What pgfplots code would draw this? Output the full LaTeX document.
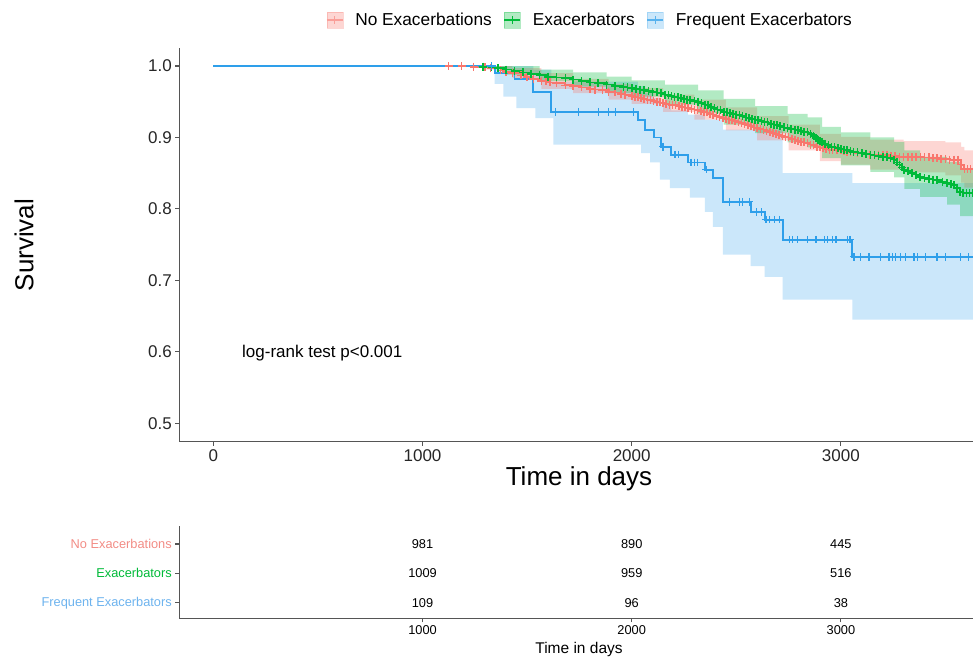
\documentclass[border=0pt]{standalone}
\usepackage{pgfplots}
\usepackage{pgfplotstable}
\pgfplotsset{compat=1.18}
\usepackage{fontspec}
\setmainfont{Liberation Sans}
\definecolor{cRed}{HTML}{F8766D}
\definecolor{cGreen}{HTML}{00BA38}
\definecolor{cBlue}{HTML}{2E9FEA}
\definecolor{cBlueLab}{HTML}{6DB3EE}
\definecolor{cRedLab}{HTML}{F28C85}
\definecolor{axgray}{HTML}{555555}

% No Exacerbations: step curve incl. censor points
\pgfplotstableread[row sep=\\]{
x y\\
0 1.0\\ 1125 1.0\\ 1187 1.0\\ 1244 0.999\\ 1300 0.998\\ 1325 0.997\\ 1373 0.994\\ 1400 0.992\\
1430 0.990\\ 1470 0.987\\ 1500 0.985\\ 1530 0.982\\ 1568 0.979\\ 1590 0.979\\ 1610 0.977\\ 1640 0.976\\
1683 0.973\\ 1720 0.972\\ 1760 0.970\\ 1800 0.968\\ 1825 0.967\\ 1860 0.966\\ 1890 0.964\\ 1921 0.963\\
1950 0.961\\ 1968 0.960\\ 2000 0.958\\ 2015 0.957\\ 2030 0.956\\ 2045 0.955\\ 2060 0.954\\ 2075 0.953\\
2090 0.952\\ 2105 0.951\\ 2120 0.950\\ 2135 0.949\\ 2150 0.948\\ 2165 0.947\\ 2180 0.946\\ 2195 0.945\\
2210 0.945\\ 2225 0.944\\ 2240 0.943\\ 2255 0.942\\ 2270 0.941\\ 2285 0.940\\ 2300 0.939\\ 2315 0.938\\
2330 0.937\\ 2345 0.936\\ 2360 0.935\\ 2375 0.933\\ 2390 0.932\\ 2405 0.930\\ 2420 0.929\\ 2435 0.927\\
2450 0.926\\ 2465 0.925\\ 2480 0.924\\ 2495 0.923\\ 2510 0.922\\ 2525 0.920\\ 2540 0.919\\ 2555 0.917\\
2570 0.916\\ 2585 0.914\\ 2600 0.913\\ 2615 0.912\\ 2630 0.911\\ 2645 0.909\\ 2660 0.908\\ 2675 0.906\\
2690 0.905\\ 2705 0.903\\ 2720 0.902\\ 2735 0.901\\ 2750 0.900\\ 2765 0.898\\ 2780 0.897\\ 2795 0.895\\
2810 0.894\\ 2825 0.893\\ 2840 0.892\\ 2855 0.890\\ 2870 0.889\\ 2885 0.887\\ 2900 0.886\\ 2915 0.885\\
2930 0.884\\ 2945 0.883\\ 2960 0.883\\ 2980 0.882\\ 3000 0.882\\ 3015 0.881\\ 3030 0.880\\ 3045 0.880\\
3060 0.879\\ 3080 0.878\\ 3100 0.878\\ 3120 0.877\\ 3140 0.876\\ 3160 0.876\\ 3180 0.876\\ 3200 0.875\\
3220 0.875\\ 3240 0.874\\ 3260 0.874\\ 3280 0.873\\ 3300 0.873\\ 3320 0.873\\ 3340 0.873\\ 3360 0.873\\
3380 0.873\\ 3400 0.872\\ 3420 0.872\\ 3440 0.871\\ 3460 0.871\\ 3480 0.870\\ 3500 0.870\\ 3520 0.869\\
3540 0.869\\ 3560 0.869\\ 3575 0.862\\ 3590 0.856\\ 3605 0.856\\ 3620 0.856\\ 3640 0.856\\
}\tabRed

% Exacerbators
\pgfplotstableread[row sep=\\]{
x y\\
0 1.0\\ 1250 1.0\\ 1290 0.999\\ 1330 0.998\\ 1360 0.997\\ 1400 0.995\\ 1440 0.993\\ 1480 0.991\\
1520 0.989\\ 1560 0.987\\ 1600 0.985\\ 1640 0.984\\ 1683 0.983\\ 1720 0.981\\ 1760 0.979\\ 1800 0.977\\
1840 0.976\\ 1880 0.974\\ 1920 0.972\\ 1960 0.971\\ 1980 0.970\\ 2000 0.969\\ 2020 0.968\\ 2040 0.967\\
2060 0.966\\ 2080 0.965\\ 2100 0.964\\ 2120 0.963\\ 2140 0.962\\ 2159 0.960\\ 2175 0.959\\ 2190 0.958\\
2205 0.957\\ 2220 0.956\\ 2235 0.955\\ 2250 0.954\\ 2265 0.953\\ 2280 0.952\\ 2300 0.951\\ 2317 0.950\\
2333 0.948\\ 2350 0.946\\ 2365 0.945\\ 2380 0.943\\ 2395 0.941\\ 2410 0.939\\ 2425 0.938\\ 2440 0.936\\
2455 0.935\\ 2470 0.934\\ 2485 0.933\\ 2500 0.932\\ 2515 0.931\\ 2530 0.930\\ 2545 0.928\\ 2560 0.927\\
2575 0.926\\ 2590 0.925\\ 2605 0.924\\ 2620 0.923\\ 2635 0.922\\ 2650 0.921\\ 2665 0.919\\ 2680 0.918\\
2695 0.917\\ 2710 0.916\\ 2728 0.914\\ 2745 0.913\\ 2762 0.912\\ 2780 0.911\\ 2795 0.910\\ 2810 0.909\\
2825 0.908\\ 2841 0.907\\ 2855 0.905\\ 2870 0.902\\ 2880 0.899\\ 2890 0.897\\ 2900 0.895\\ 2910 0.893\\
2925 0.891\\ 2940 0.889\\ 2955 0.887\\ 2970 0.886\\ 2985 0.885\\ 3000 0.884\\ 3015 0.883\\ 3030 0.882\\
3045 0.881\\ 3060 0.880\\ 3080 0.879\\ 3100 0.878\\ 3120 0.877\\ 3141 0.876\\ 3160 0.875\\ 3180 0.874\\
3200 0.873\\ 3220 0.872\\ 3238 0.871\\ 3255 0.869\\ 3268 0.865\\ 3280 0.862\\ 3292 0.858\\ 3303 0.855\\
3320 0.853\\ 3340 0.850\\ 3360 0.848\\ 3379 0.845\\ 3400 0.843\\ 3420 0.842\\ 3440 0.841\\ 3460 0.840\\
3485 0.838\\ 3508 0.836\\ 3525 0.835\\ 3540 0.833\\ 3555 0.829\\ 3570 0.824\\ 3585 0.823\\ 3600 0.822\\
3615 0.822\\ 3630 0.822\\ 3640 0.822\\
}\tabGreen

% Frequent Exacerbators
\pgfplotstableread[row sep=\\]{
x y\\
0 1.0\\ 1345 0.990\\ 1440 0.982\\ 1530 0.964\\ 1616 0.936\\ 2030 0.925\\ 2064 0.911\\ 2105 0.900\\
2140 0.887\\ 2188 0.876\\ 2269 0.865\\ 2350 0.855\\ 2388 0.843\\ 2436 0.810\\ 2569 0.796\\ 2636 0.785\\
2722 0.757\\ 3055 0.733\\ 3640 0.733\\
}\tabBlue

\pgfplotstableread[row sep=\\]{
x y\\
1330 1.0\\ 1635 0.936\\ 1745 0.936\\ 1840 0.936\\ 1888 0.936\\ 1921 0.936\\ 2010 0.936\\ 2150 0.887\\
2207 0.876\\ 2225 0.876\\ 2283 0.865\\ 2300 0.865\\ 2315 0.865\\ 2356 0.855\\ 2467 0.810\\ 2515 0.810\\
2531 0.810\\ 2563 0.810\\ 2595 0.796\\ 2619 0.796\\ 2642 0.785\\ 2658 0.785\\ 2682 0.785\\ 2706 0.785\\
2753 0.757\\ 2769 0.757\\ 2793 0.757\\ 2841 0.757\\ 2881 0.757\\ 2920 0.757\\ 2936 0.757\\ 2960 0.757\\
2976 0.757\\ 3031 0.757\\ 3043 0.757\\ 3063 0.733\\ 3095 0.733\\ 3135 0.733\\ 3190 0.733\\ 3230 0.733\\
3246 0.733\\ 3262 0.733\\ 3285 0.733\\ 3310 0.733\\ 3349 0.733\\ 3365 0.733\\ 3405 0.733\\ 3460 0.733\\
3500 0.733\\ 3572 0.733\\ 3610 0.733\\
}\cenBlue

% confidence bands as step polygons (upper forward, lower backward)
\pgfplotstableread[row sep=\\]{
x y\\
0 1\\ 1430 1\\ 1430 0.997\\ 1568 0.997\\ 1568 0.990\\ 1720 0.990\\ 1720 0.982\\ 1890 0.982\\
1890 0.975\\ 2000 0.975\\ 2000 0.969\\ 2150 0.969\\ 2150 0.960\\ 2300 0.960\\ 2300 0.953\\ 2450 0.953\\
2450 0.942\\ 2600 0.942\\ 2600 0.930\\ 2750 0.930\\ 2750 0.918\\ 2900 0.918\\ 2900 0.905\\ 3000 0.905\\
3000 0.901\\ 3140 0.901\\ 3140 0.897\\ 3300 0.897\\ 3300 0.895\\ 3500 0.895\\ 3500 0.893\\ 3575 0.893\\
3575 0.887\\ 3590 0.887\\ 3590 0.882\\ 3640 0.882\\
3640 0.830\\ 3590 0.830\\ 3590 0.837\\ 3575 0.837\\ 3575 0.847\\ 3500 0.847\\ 3500 0.851\\ 3300 0.851\\
3300 0.855\\ 3140 0.855\\ 3140 0.862\\ 3000 0.862\\ 3000 0.867\\ 2900 0.867\\ 2900 0.882\\ 2750 0.882\\
2750 0.896\\ 2600 0.896\\ 2600 0.910\\ 2450 0.910\\ 2450 0.925\\ 2300 0.925\\ 2300 0.936\\ 2150 0.936\\
2150 0.947\\ 2000 0.947\\ 2000 0.953\\ 1890 0.953\\ 1890 0.962\\ 1720 0.962\\ 1720 0.968\\ 1568 0.968\\
1568 0.983\\ 1430 0.983\\ 1430 0.995\\ 1300 0.995\\ 1300 0.999\\ 1187 0.999\\ 1187 1\\ 0 1\\
}\bandRed

\pgfplotstableread[row sep=\\]{
x y\\
0 1\\ 1560 1\\ 1560 0.995\\ 1720 0.995\\ 1720 0.991\\ 1880 0.991\\ 1880 0.985\\ 2000 0.985\\
2000 0.980\\ 2159 0.980\\ 2159 0.974\\ 2317 0.974\\ 2317 0.966\\ 2440 0.966\\ 2440 0.954\\ 2590 0.954\\
2590 0.944\\ 2745 0.944\\ 2745 0.933\\ 2841 0.933\\ 2841 0.928\\ 2910 0.928\\ 2910 0.915\\ 3000 0.915\\
3000 0.907\\ 3141 0.907\\ 3141 0.900\\ 3255 0.900\\ 3255 0.894\\ 3303 0.894\\ 3303 0.882\\ 3379 0.882\\
3379 0.873\\ 3508 0.873\\ 3508 0.866\\ 3570 0.866\\ 3570 0.857\\ 3640 0.857\\
3640 0.790\\ 3570 0.790\\ 3570 0.806\\ 3508 0.806\\ 3508 0.817\\ 3379 0.817\\ 3379 0.828\\ 3303 0.828\\
3303 0.844\\ 3255 0.844\\ 3255 0.852\\ 3141 0.852\\ 3141 0.861\\ 3000 0.861\\ 3000 0.871\\ 2910 0.871\\
2910 0.886\\ 2841 0.886\\ 2841 0.893\\ 2745 0.893\\ 2745 0.906\\ 2590 0.906\\ 2590 0.918\\ 2440 0.918\\
2440 0.934\\ 2317 0.934\\ 2317 0.946\\ 2159 0.946\\ 2159 0.957\\ 2000 0.957\\ 2000 0.962\\ 1880 0.962\\
1880 0.971\\ 1720 0.971\\ 1720 0.979\\ 1560 0.979\\ 1560 0.988\\ 1400 0.988\\ 1400 0.998\\ 1250 0.998\\
1250 1\\ 0 1\\
}\bandGreen

\pgfplotstableread[row sep=\\]{
x y\\
0 1\\ 1530 1\\ 1530 0.995\\ 1616 0.995\\ 1616 0.978\\ 2030 0.978\\ 2030 0.972\\ 2064 0.972\\
2064 0.962\\ 2105 0.962\\ 2105 0.955\\ 2140 0.955\\ 2140 0.946\\ 2188 0.946\\ 2188 0.938\\ 2269 0.938\\
2269 0.932\\ 2350 0.932\\ 2350 0.925\\ 2436 0.925\\ 2436 0.911\\ 2722 0.911\\ 2722 0.850\\ 3055 0.850\\
3055 0.836\\ 3640 0.836\\
3640 0.645\\ 3055 0.645\\ 3055 0.673\\ 2722 0.673\\ 2722 0.705\\ 2636 0.705\\ 2636 0.720\\ 2569 0.720\\
2569 0.736\\ 2436 0.736\\ 2436 0.775\\ 2388 0.775\\ 2388 0.796\\ 2350 0.796\\ 2350 0.816\\ 2278 0.816\\
2278 0.829\\ 2183 0.829\\ 2183 0.841\\ 2135 0.841\\ 2135 0.865\\ 2088 0.865\\ 2088 0.878\\ 2045 0.878\\
2045 0.890\\ 1625 0.890\\ 1625 0.927\\ 1540 0.927\\ 1540 0.941\\ 1449 0.941\\ 1449 0.957\\ 1387 0.957\\
1387 0.975\\ 1345 0.975\\ 1345 1\\ 0 1\\
}\bandBlue

\pgfplotstableread[row sep=\\]{
x y n\\
1000 3 981\\ 2000 3 890\\ 3000 3 445\\
1000 2 1009\\ 2000 2 959\\ 3000 2 516\\
1000 1 109\\ 2000 1 96\\ 3000 1 38\\
}\tabRisk

\begin{document}
\begin{tikzpicture}
\useasboundingbox (0,0) rectangle (973bp,662bp);
\pgfplotsset{
  every axis/.append style={
    scale only axis,
    axis x line*=bottom, axis y line*=left,
    axis line style={axgray, line width=1.1bp},
    tick style={axgray, line width=1.1bp},
    tick align=outside,
    /pgf/number format/assume math mode=true,
    /pgf/number format/1000 sep={},
    xmin=-162.7, xmax=3631.6,
  },
}
% ---------------- main survival plot ----------------
\begin{axis}[
  at={(179.3bp,220.3bp)}, anchor=south west,
  width=793.7bp, height=393.4bp,
  ymin=0.4743, ymax=1.0248,
  xtick={0,1000,2000,3000},
  ytick={0.5,0.6,0.7,0.8,0.9,1.0},
  major tick length=4bp,
  yticklabel style={/pgf/number format/.cd, fixed, fixed zerofill, precision=1},
  tick label style={font=\fontsize{17bp}{20bp}\selectfont, black!85},
  xlabel={Time in days},
  ylabel={Survival},
  xlabel style={at={(axis description cs:0.5036,-0.095)}, anchor=center, font=\fontsize{26bp}{30bp}\selectfont},
  ylabel style={at={(axis description cs:-0.1957,0.5)}, anchor=center, font=\fontsize{26bp}{30bp}\selectfont},
  legend style={at={(axis description cs:0.5175,1.072)}, anchor=center, draw=none, fill=none,
    font=\fontsize{17.3bp}{19bp}\selectfont,
    /tikz/every odd column/.append style={column sep=10bp},
    /tikz/every even column/.append style={column sep=10bp}},
  legend columns=3,
]
% confidence bands
\addplot[fill=cBlue, fill opacity=0.25, draw=none, forget plot] table {\bandBlue};
\addplot[fill=cRed, fill opacity=0.3, draw=none, forget plot] table {\bandRed};
\addplot[fill=cGreen, fill opacity=0.3, draw=none, forget plot] table {\bandGreen};
% curves
\addplot[const plot, draw=cRed, line width=1.8bp, forget plot] table {\tabRed};
\addplot[only marks, mark=+, mark size=4bp, mark options={draw=cRed, line width=1.6bp}, restrict x to domain=1100:3625, forget plot] table {\tabRed};
\addplot[const plot, draw=cGreen, line width=1.8bp, forget plot] table {\tabGreen};
\addplot[only marks, mark=+, mark size=4bp, mark options={draw=cGreen, line width=1.6bp}, restrict x to domain=1280:3635, forget plot] table {\tabGreen};
\addplot[const plot, draw=cBlue, line width=1.8bp, forget plot] table {\tabBlue};
\addplot[only marks, mark=+, mark size=3.8bp, mark options={draw=cBlue, line width=1.3bp}, forget plot] table {\cenBlue};
\node[anchor=west, inner sep=0pt, font=\fontsize{17bp}{20bp}\selectfont] at (axis cs:137,0.598) {log-rank test p<0.001};
% legend
\addlegendimage{legend image code/.code={
  \fill[cRed, opacity=0.3] (0bp,-8bp) rectangle (16bp,8bp);
  \draw[cRed!70, line width=1.1bp] (0bp,0bp) -- (16bp,0bp) (8bp,-4bp) -- (8bp,4bp);}}
\addlegendentry{No Exacerbations}
\addlegendimage{legend image code/.code={
  \fill[cGreen, opacity=0.3] (0bp,-8bp) rectangle (16bp,8bp);
  \draw[cGreen, line width=1.1bp] (0bp,0bp) -- (16bp,0bp) (8bp,-4bp) -- (8bp,4bp);}}
\addlegendentry{Exacerbators}
\addlegendimage{legend image code/.code={
  \fill[cBlue, opacity=0.25] (0bp,-8bp) rectangle (16bp,8bp);
  \draw[cBlue!80, line width=1.1bp] (0bp,0bp) -- (16bp,0bp) (8bp,-4bp) -- (8bp,4bp);}}
\addlegendentry{Frequent Exacerbators}
\end{axis}

% ---------------- risk table ----------------
\begin{axis}[
  at={(179.3bp,43.7bp)}, anchor=south west,
  width=793.7bp, height=92.3bp,
  ymin=0.469, ymax=3.613,
  xtick={1000,2000,3000},
  ytick={1,2,3},
  yticklabels={\textcolor{cBlueLab}{Frequent Exacerbators},\textcolor{cGreen}{Exacerbators},\textcolor{cRedLab}{No Exacerbations}},
  major tick length=4bp,
  tick label style={font=\fontsize{12.8bp}{15bp}\selectfont},
  xlabel={Time in days},
  xlabel style={at={(axis description cs:0.5036,-0.343)}, anchor=center, font=\fontsize{15.5bp}{18bp}\selectfont},
]
\addplot[only marks, mark=*, mark size=0.01pt, mark options={draw=none, fill=none},
  nodes near coords, point meta=explicit symbolic,
  nodes near coords style={anchor=center, font=\fontsize{12.8bp}{15bp}\selectfont, black}]
  table[x=x, y=y, meta=n] {\tabRisk};
\node[anchor=base west, inner sep=0pt, font=\fontsize{17bp}{20bp}\selectfont, yshift=8bp] at (rel axis cs:0,1) {Number at risk};
\end{axis}
\end{tikzpicture}
\end{document}
